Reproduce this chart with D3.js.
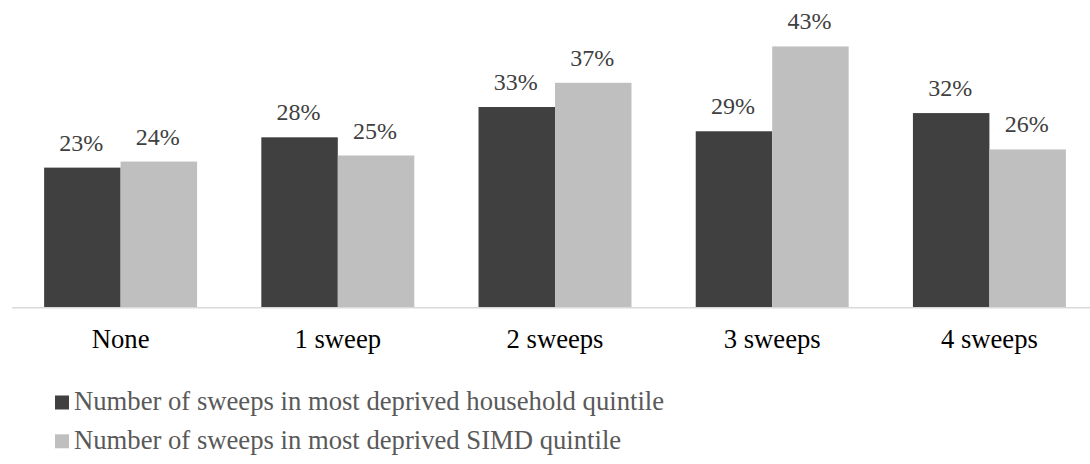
<!DOCTYPE html>
<html>
<head>
<meta charset="utf-8">
<script src="https://cdn.jsdelivr.net/npm/d3@7"></script>
<style>
  html, body { margin: 0; padding: 0; background: #fff; }
  svg { display: block; }
</style>
</head>
<body>
<svg id="chart" width="1090" height="464"></svg>
<script>
const categories = ["None", "1 sweep", "2 sweeps", "3 sweeps", "4 sweeps"];
const seriesNames = [
  "Number of sweeps in most deprived household quintile",
  "Number of sweeps in most deprived SIMD quintile"
];
const householdValues = [23, 28, 33, 29, 32];
const simdValues = [24, 25, 37, 43, 26];
const colors = ["#404040", "#bfbfbf"];
const FONT = "'Liberation Serif', 'Times New Roman', serif";

const svg = d3.select("#chart");
const baseY = 307;

const x0 = d3.scaleBand().domain(categories).range([12, 1098]).padding(0);
const x1 = d3.scaleBand().domain([0, 1]).range([0, x0.bandwidth()])
  .paddingInner(0).paddingOuter(0.42);
const y = d3.scaleLinear().domain([0, 50]).range([baseY, 4]);

const data = categories.map((c, i) => ({
  cat: c,
  vals: [householdValues[i], simdValues[i]]
}));

// Bars
const groups = svg.append("g").selectAll("g").data(data).join("g")
  .attr("transform", d => `translate(${x0(d.cat)},0)`);

groups.selectAll("rect").data(d => d.vals.map((v, s) => ({ v, s })))
  .join("rect")
  .attr("x", d => x1(d.s))
  .attr("width", x1.bandwidth())
  .attr("y", d => y(d.v))
  .attr("height", d => y(0) - y(d.v))
  .attr("fill", d => colors[d.s]);

// Value labels
groups.selectAll("text.val").data(d => d.vals.map((v, s) => ({ v, s })))
  .join("text")
  .attr("class", "val")
  .attr("x", d => x1(d.s) + x1.bandwidth() / 2 - 1)
  .attr("y", d => y(d.v) - 17)
  .attr("text-anchor", "middle")
  .style("font-family", FONT)
  .style("font-size", "24px")
  .attr("fill", "#404040")
  .text(d => d.v + "%");

// Axis
const xAxis = d3.axisBottom(x0).tickSize(0).tickPadding(0);
const axisG = svg.append("g")
  .attr("transform", `translate(0,${baseY + 0.75})`)
  .call(xAxis);
axisG.attr("font-family", null).attr("font-size", null);
axisG.select(".domain").attr("stroke", "#d9d9d9").attr("stroke-width", 1.5)
  .attr("d", `M12,0H1098`);
axisG.selectAll(".tick text")
  .style("font-family", FONT)
  .style("font-size", "26.67px")
  .attr("fill", "#000")
  .attr("dy", null)
  .attr("y", 40.5);

// Legend
const legend = svg.append("g").selectAll("g").data(seriesNames).join("g")
  .attr("transform", (d, i) => `translate(55,${395.5 + i * 38.8})`);
legend.append("rect")
  .attr("width", 14).attr("height", 14)
  .attr("fill", (d, i) => colors[i]);
legend.append("text")
  .attr("x", 19).attr("y", 14.5)
  .style("font-family", FONT)
  .style("font-size", "26.67px")
  .attr("fill", "#595959")
  .text(d => d);
</script>
</body>
</html>
